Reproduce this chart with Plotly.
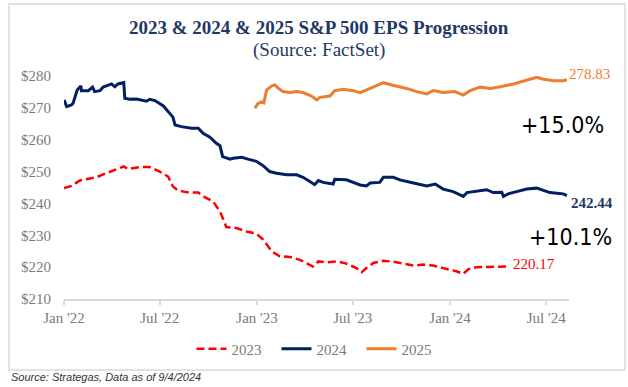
import plotly.graph_objects as go

# ---------------- data ----------------
dates_2024 = ["2022-01-01","2022-01-06","2022-01-15","2022-01-18","2022-01-26","2022-02-02","2022-02-03",
    "2022-02-16","2022-02-24","2022-02-28","2022-03-10","2022-03-16","2022-04-01","2022-04-07","2022-04-13",
    "2022-04-24","2022-04-26","2022-05-05","2022-05-18","2022-06-06","2022-06-12","2022-06-22","2022-07-08",
    "2022-07-20","2022-07-26","2022-07-30","2022-08-11","2022-08-30","2022-09-12","2022-09-21","2022-10-04",
    "2022-10-16","2022-10-23","2022-10-28","2022-11-11","2022-11-17","2022-12-03","2022-12-15","2022-12-31",
    "2023-01-13","2023-01-25","2023-02-07","2023-02-26","2023-03-17","2023-03-29","2023-04-11","2023-04-20",
    "2023-04-27","2023-05-06","2023-05-25","2023-05-28","2023-06-19","2023-07-15","2023-07-27","2023-08-03",
    "2023-08-21","2023-08-28","2023-09-16","2023-09-28","2023-10-24","2023-11-18","2023-12-04","2023-12-19",
    "2024-01-07","2024-01-26","2024-02-02","2024-02-27","2024-03-10","2024-03-23","2024-04-08","2024-04-11",
    "2024-04-20","2024-05-06","2024-05-25","2024-06-13","2024-06-22","2024-07-08","2024-07-21","2024-08-02",
    "2024-08-09"]
eps_2024 = [272.5,270.4,270.9,271.4,275.6,276.9,275.4,
    275.4,276.5,275.1,275.4,276.5,277.5,276.6,277.5,
    277.9,273.0,272.7,272.8,272.1,272.7,272.3,270.6,
    268.3,267.1,264.6,264.1,263.6,263.6,262.0,260.8,
    258.9,258.1,254.7,253.9,254.2,254.5,253.9,253.2,
    251.8,250.0,249.5,249.0,249.0,248.2,246.9,245.9,
    247.2,246.6,246.1,247.6,247.4,245.8,245.5,246.4,
    246.6,248.2,248.2,247.4,246.4,245.5,246.1,244.5,
    243.7,242.2,243.4,243.9,244.3,243.4,243.5,242.2,
    243.0,243.7,244.5,244.8,244.3,243.4,243.2,243.0,
    242.44]

dates_2025 = ["2022-12-28","2023-01-03","2023-01-10","2023-01-14","2023-01-19","2023-01-29","2023-02-04",
    "2023-02-10","2023-02-19","2023-03-04","2023-03-17","2023-03-29","2023-04-14","2023-04-24","2023-04-30",
    "2023-05-19","2023-05-28","2023-06-13","2023-07-02","2023-07-15","2023-08-03","2023-08-28","2023-09-13",
    "2023-09-28","2023-10-11","2023-10-30","2023-11-18","2023-11-30","2023-12-19","2024-01-10","2024-01-26",
    "2024-02-08","2024-02-27","2024-03-17","2024-04-05","2024-04-30","2024-05-25","2024-06-13","2024-06-26",
    "2024-07-15","2024-08-02","2024-08-09"]
eps_2025 = [269.9,271.4,271.9,271.6,275.6,276.9,277.2,
    276.2,275.1,274.8,275.1,274.8,273.7,272.5,273.3,
    273.7,275.4,275.8,275.4,274.8,276.1,277.9,277.2,
    276.6,276.1,275.1,274.4,275.4,274.8,275.1,274.0,
    275.4,276.5,276.1,276.6,277.5,278.7,279.6,279.0,
    278.5,278.5,278.83]

dates_2023 = ["2022-01-01","2022-01-15","2022-01-31","2022-03-03","2022-03-22","2022-04-10","2022-04-24",
    "2022-05-02","2022-05-24","2022-06-12","2022-07-01","2022-07-17","2022-07-26","2022-08-05","2022-08-27",
    "2022-09-12","2022-09-24","2022-10-10","2022-10-23","2022-11-04","2022-11-23","2022-12-12","2022-12-31",
    "2023-01-13","2023-01-29","2023-02-13","2023-03-04","2023-03-23","2023-04-05","2023-04-17","2023-04-27",
    "2023-05-13","2023-06-01","2023-06-19","2023-07-08","2023-07-18","2023-07-27","2023-08-09","2023-08-28",
    "2023-09-16","2023-10-05","2023-10-24","2023-11-12","2023-11-30","2023-12-19","2024-01-13","2024-01-26",
    "2024-02-05","2024-02-21","2024-03-17","2024-04-17"]
eps_2023 = [244.8,245.5,247.2,248.2,249.5,250.8,251.6,
    250.8,251.4,251.4,250.0,248.4,245.3,244.0,243.4,
    243.4,242.0,240.6,237.5,232.6,232.3,231.2,230.5,
    228.6,224.9,223.4,223.2,222.3,221.1,220.2,221.8,
    221.5,221.8,221.1,219.7,218.4,219.7,221.3,222.0,
    221.7,221.1,220.5,220.8,220.5,219.7,218.7,217.9,
    219.4,220.0,220.0,220.17]

series_names = ["2023", "2024", "2025"]
growth_labels = ["+15.0%", "+10.1%"]
title_text = "2023 & 2024 & 2025 S&P 500 EPS Progression"
subtitle_text = "(Source: FactSet)"
source_text = "Source: Strategas, Data as of 9/4/2024"

# ---------------- layout helpers ----------------
W, H = 628, 387
L, R, T, B = 64, 59, 76, 88
PW, PH = W - L - R, H - T - B

def px(x):
    return (x - L) / PW

def py(y):
    return (H - B - y) / PH

NAVY = "#002060"
ORANGE = "#ED7D31"
RED = "#FF0000"
GRAY = "#7A7A7A"
SERIF = "Liberation Serif, Times New Roman, serif"
HAND = "DejaVu Sans Condensed, Liberation Sans Narrow, sans-serif"

fig = go.Figure()
fig.add_trace(go.Scatter(x=dates_2023, y=eps_2023, mode="lines", name=series_names[0],
                         line=dict(color=RED, width=2.5, dash="8px,4px")))
fig.add_trace(go.Scatter(x=dates_2024, y=eps_2024, mode="lines", name=series_names[1],
                         line=dict(color=NAVY, width=3)))
fig.add_trace(go.Scatter(x=dates_2025, y=eps_2025, mode="lines", name=series_names[2],
                         line=dict(color=ORANGE, width=3)))

annotations = [
    dict(text="<b>" + title_text.replace("&", "&amp;") + "</b>", x=px(318.5), y=py(27), xref="paper", yref="paper",
         showarrow=False, xanchor="center", yanchor="middle",
         font=dict(family=SERIF, size=19, color="#1F3864")),
    dict(text=subtitle_text, x=px(318.5), y=py(50), xref="paper", yref="paper",
         showarrow=False, xanchor="center", yanchor="middle",
         font=dict(family=SERIF, size=19, color="#1F3864")),
    dict(text="<i>" + source_text + "</i>", x=px(9), y=py(377), xref="paper", yref="paper",
         showarrow=False, xanchor="left", yanchor="middle",
         font=dict(family="Liberation Sans, Arial, sans-serif", size=11, color="#333333")),
    # end labels
    dict(text=f"{eps_2025[-1]:.2f}", x=dates_2025[-1], y=eps_2025[-1], xref="x", yref="y",
         showarrow=False, xanchor="left", yanchor="middle", xshift=0, yshift=6,
         font=dict(family=SERIF, size=15, color=ORANGE)),
    dict(text=f"<b>{eps_2024[-1]:.2f}</b>", x=dates_2024[-1], y=eps_2024[-1], xref="x", yref="y",
         showarrow=False, xanchor="left", yanchor="middle", xshift=2, yshift=-7,
         font=dict(family=SERIF, size=15, color="#1F3864")),
    dict(text=f"{eps_2023[-1]:.2f}", x=dates_2023[-1], y=eps_2023[-1], xref="x", yref="y",
         showarrow=False, xanchor="left", yanchor="middle", xshift=4, yshift=3,
         font=dict(family=SERIF, size=15, color=RED)),
    # handwritten growth notes
    dict(text=growth_labels[0], x=px(562), y=py(125), xref="paper", yref="paper",
         showarrow=False, xanchor="center", yanchor="middle",
         font=dict(family=HAND, size=23, color="#000000")),
    dict(text=growth_labels[1], x=px(570), y=py(237), xref="paper", yref="paper",
         showarrow=False, xanchor="center", yanchor="middle",
         font=dict(family=HAND, size=23, color="#000000")),
]

shapes = [
    dict(type="rect", xref="paper", yref="paper", x0=px(9), x1=px(625), y0=py(4), y1=py(370),
         line=dict(color="#D9D9D9", width=1.5), fillcolor="rgba(0,0,0,0)", layer="below"),
]

fig.update_layout(
    width=W, height=H,
    margin=dict(l=L, r=R, t=T, b=B),
    paper_bgcolor="white", plot_bgcolor="white",
    annotations=annotations, shapes=shapes,
    showlegend=True,
    legend=dict(orientation="h", x=px(319), xanchor="center", y=py(349), yanchor="middle",
                font=dict(family=SERIF, size=15, color=GRAY), bgcolor="rgba(0,0,0,0)",
                traceorder="normal", entrywidth=40, entrywidthmode="pixels"),
    font=dict(family=SERIF, size=15, color=GRAY),
)
fig.update_xaxes(type="date", range=["2022-01-01", "2024-08-13"], tick0="2022-01-01", dtick="M6",
                 tickformat="%b '%y", showgrid=False, zeroline=False,
                 showline=True, linecolor="#D9D9D9", linewidth=1.5,
                 ticks="outside", ticklen=4, tickcolor="#D9D9D9", tickwidth=1.5,
                 tickfont=dict(family=SERIF, size=15, color=GRAY))
fig.update_yaxes(range=[210, 280], dtick=10, tickprefix="$", showgrid=False, zeroline=False,
                 showline=False, ticks="", ticklabelstandoff=12,
                 tickfont=dict(family=SERIF, size=15, color=GRAY))

fig.write_html("out.html", config={"displayModeBar": False},
               post_script="document.body.style.margin='0';document.body.style.overflow='hidden';")
